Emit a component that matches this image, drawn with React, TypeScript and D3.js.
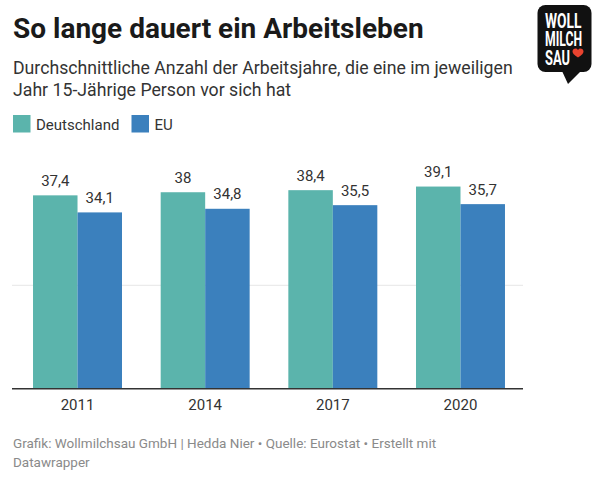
import React from "react";
import * as d3 from "d3";

const years = ["2011", "2014", "2017", "2020"];
const seriesNames = ["Deutschland", "EU"];
const deutschland = [37.4, 38, 38.4, 39.1];
const eu = [34.1, 34.8, 35.5, 35.7];
const gridTicks = [20];
const colors = ["#5bb4ac", "#3b80bd"];

const title = "So lange dauert ein Arbeitsleben";
const subtitleLines = [
  "Durchschnittliche Anzahl der Arbeitsjahre, die eine im jeweiligen",
  "Jahr 15-Jährige Person vor sich hat",
];
const footerLines = [
  "Grafik: Wollmilchsau GmbH | Hedda Nier • Quelle: Eurostat • Erstellt mit",
  "Datawrapper",
];

const fmt = (v: number) => String(v).replace(".", ",");

export default function App() {
  const W = 600;
  const H = 490;
  const font = "Roboto, 'Noto Sans', sans-serif";

  const x = d3.scaleBand<string>().domain(years).range([14, 524]).paddingInner(0.303).paddingOuter(0.149);
  const xi = d3.scaleBand<string>().domain(seriesNames).range([0, x.bandwidth()]);
  const y = d3.scaleLinear().domain([0, 40]).range([388.7, 181.9]);

  const data = [deutschland, eu];

  return (
    <div style={{ position: "absolute", left: 0, top: 0, width: W, height: H, background: "#fff" }}>
      <svg width={W} height={H} style={{ display: "block", fontFamily: font }}>
        <rect width={W} height={H} fill="#fff" />
        <text x={13} y={38.3} fontSize={28} fontWeight={700} fill="#1a1a1a">
          {title}
        </text>
        {subtitleLines.map((l, i) => (
          <text key={i} x={13} y={74.3 + i * 21.8} fontSize={17.7} fill="#333">
            {l}
          </text>
        ))}
        {/* legend */}
        {seriesNames.map((s, i) => {
          const lx = i === 0 ? 13 : 131.5;
          return (
            <g key={s}>
              <rect x={lx} y={115} width={17.5} height={17.5} fill={colors[i]} />
              <text x={lx + 23} y={129.5} fontSize={15} fill="#333">
                {s}
              </text>
            </g>
          );
        })}
        {/* grid */}
        {gridTicks.map((t) => (
          <line key={t} x1={12} x2={523} y1={y(t)} y2={y(t)} stroke="#e6e6e6" strokeWidth={1} />
        ))}
        {/* bars */}
        {years.map((yr, gi) => (
          <g key={yr} transform={`translate(${x(yr)},0)`}>
            {seriesNames.map((s, si) => {
              const v = data[si][gi];
              const bx = xi(s) as number;
              return (
                <g key={s}>
                  <rect x={bx} y={y(v)} width={xi.bandwidth()} height={y(0) - y(v)} fill={colors[si]} />
                  <text
                    x={bx + xi.bandwidth() / 2}
                    y={y(v) - 9.5}
                    textAnchor="middle"
                    fontSize={15}
                    fill="#333"
                  >
                    {fmt(v)}
                  </text>
                </g>
              );
            })}
            <text x={x.bandwidth() / 2} y={409.5} textAnchor="middle" fontSize={15} fill="#333">
              {yr}
            </text>
          </g>
        ))}
        <line x1={12} x2={523} y1={y(0)} y2={y(0)} stroke="#333" strokeWidth={1.6} />
        {/* footer */}
        {footerLines.map((l, i) => (
          <text key={i} x={13} y={447.5 + i * 19} fontSize={13.5} fill="#8a8a8a">
            {l}
          </text>
        ))}
        {/* logo */}
        <g>
          <rect x={537.5} y={5} width={54} height={67} rx={8} fill="#111" />
          <path d="M562,71 L568,84 L581,71 Z" fill="#111" />
          <text x={545} y={27.7} fontSize={20} fontWeight={700} fill="#fff" textLength={36.5} lengthAdjust="spacingAndGlyphs">
            WOLL
          </text>
          <text x={545} y={46.3} fontSize={20} fontWeight={700} fill="#fff" textLength={37} lengthAdjust="spacingAndGlyphs">
            MILCH
          </text>
          <text x={545} y={64.5} fontSize={20} fontWeight={700} fill="#fff" textLength={25} lengthAdjust="spacingAndGlyphs">
            SAU
          </text>
          <path
            d="M578,57.5 C574,55 572.5,53 572.5,51.5 C572.5,49.5 574,48.5 575.5,48.5 C576.7,48.5 577.5,49.2 578,50 C578.5,49.2 579.3,48.5 580.5,48.5 C582,48.5 583.5,49.5 583.5,51.5 C583.5,53 582,55 578,57.5 Z"
            fill="#e8432f"
          />
        </g>
      </svg>
    </div>
  );
}
